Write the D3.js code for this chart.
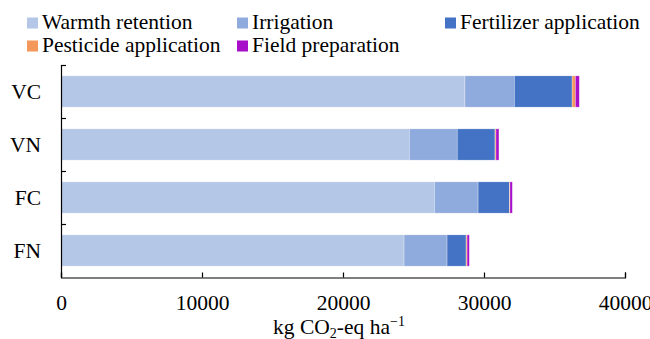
<!DOCTYPE html>
<html>
<head>
<meta charset="utf-8">
<script src="https://cdn.jsdelivr.net/npm/d3@7/dist/d3.min.js"></script>
<style>
	html, body { margin: 0; padding: 0; background: #fff; }
	svg text { font-family: "Liberation Serif", "Times New Roman", serif; fill: #000; }
</style>
</head>
<body>
<svg id="chart" width="650" height="339" font-family="'Liberation Serif', 'Times New Roman', serif"></svg>
<script>
(function(){
	'use strict';

	// values (kg CO2-eq / ha)
	var categories = ["VC", "VN", "FC", "FN"];
	var seriesNames = ["Warmth retention", "Irrigation", "Fertilizer application", "Pesticide application", "Field preparation"];
	var warmth = [28650, 24700, 26480, 24330];
	var irrigation = [3500, 3400, 3100, 3050];
	var fertilizer = [4100, 2680, 2220, 1350];
	var pesticide = [230, 70, 40, 70];
	var fieldPrep = [280, 210, 170, 160];
	var xTicks = [0, 10000, 20000, 30000, 40000];

	var colors = ["#b4c7e7", "#8faadc", "#4472c4", "#f4975a", "#a80fc8"];
	var seriesValues = [warmth, irrigation, fertilizer, pesticide, fieldPrep];

	var data = categories.map(function(c, i){
		var row = {name: c};
		seriesNames.forEach(function(s, j){ row[s] = seriesValues[j][i]; });
		return row;
	});

	var svg = d3.select("#chart");
	var margin = {top: 65, right: 25, bottom: 62, left: 61},
		width = 650 - margin.left - margin.right,
		height = 339 - margin.top - margin.bottom;

	var g = svg.append("g").attr("transform", "translate(" + margin.left + "," + margin.top + ")");

	var x = d3.scaleLinear().domain([0, 40000]).range([0, 564]);

	var y = d3.scaleBand()
		.domain(categories)
		.range([0, height])
		.paddingInner(0.41)
		.paddingOuter(0.205);

	// band scale without padding, for the category tick marks
	var yb = d3.scaleBand().domain(categories).range([0, height]);

	var z = d3.scaleOrdinal().domain(seriesNames).range(colors);

	var stack = d3.stack().keys(seriesNames);

	var serie = g.selectAll(".serie")
		.data(stack(data))
		.enter().append("g")
		.attr("class", "serie")
		.attr("fill", function(d){ return z(d.key); });

	serie.selectAll("rect")
		.data(function(d){ return d; })
		.enter().append("rect")
		.attr("x", function(d){ return x(d[0]); })
		.attr("width", function(d){ return x(d[1]) - x(d[0]); })
		.attr("y", function(d){ return y(d.data.name); })
		.attr("height", y.bandwidth())
		.attr("stroke", "#fff")
		.attr("stroke-width", 0.5)
		.attr("stroke-opacity", 0.6);

	// x axis, ticks pointing up
	var xAxis = g.append("g")
		.attr("transform", "translate(0," + (height + 0.5) + ")")
		.call(d3.axisBottom(x).tickValues(xTicks).tickSizeInner(-5).tickSizeOuter(-5).tickFormat(d3.format("d")));

	xAxis.attr("font-family", null);
	xAxis.select(".domain").attr("stroke", "#000").attr("stroke-width", 1.2);
	xAxis.selectAll(".tick line").attr("stroke", "#000").attr("stroke-width", 1.2);
	xAxis.selectAll(".tick text")
		.attr("y", 32)
		.attr("dy", 0)
		.style("font-size", "21.5px");

	// y axis line with ticks at category boundaries
	var yAxis = g.append("g").attr("class", "axis axis--y");
	yAxis.append("line")
		.attr("x1", 0.5).attr("x2", 0.5)
		.attr("y1", 0).attr("y2", height)
		.attr("stroke", "#000").attr("stroke-width", 1.2);

	var bounds = categories.map(function(c){ return yb(c); });
	yAxis.selectAll(".ytick")
		.data(bounds)
		.enter().append("line")
		.attr("x1", 0).attr("x2", 5)
		.attr("y1", function(d){ return Math.round(d) + 0.5; })
		.attr("y2", function(d){ return Math.round(d) + 0.5; })
		.attr("stroke", "#000").attr("stroke-width", 1.2);

	yAxis.selectAll(".ylabel")
		.data(categories)
		.enter().append("text")
		.attr("x", -20)
		.attr("y", function(d){ return y(d) + y.bandwidth() / 2; })
		.attr("dy", "0.34em")
		.attr("text-anchor", "end")
		.style("font-size", "21.5px")
		.text(function(d){ return d; });

	// axis title
	var title = svg.append("text")
		.attr("x", 339)
		.attr("y", 334)
		.attr("text-anchor", "middle")
		.style("font-size", "21.5px");
	title.append("tspan").text("kg CO");
	title.append("tspan").attr("dy", 4).style("font-size", "14px").text("2");
	title.append("tspan").attr("dy", -4).text("-eq ha");
	title.append("tspan").attr("dy", -8).style("font-size", "14px").text("\u22121");

	// legend, three columns by two rows
	var legX = [27, 237, 445],
		legY = [29, 52];

	var legend = svg.selectAll(".leg")
		.data(seriesNames)
		.enter().append("g")
		.attr("class", "leg")
		.attr("transform", function(d, i){ return "translate(" + legX[i % 3] + "," + legY[Math.floor(i / 3)] + ")"; });

	legend.append("rect")
		.attr("x", 0).attr("y", -11.5)
		.attr("width", 11).attr("height", 11)
		.attr("fill", function(d){ return z(d); });

	legend.append("text")
		.attr("x", 15)
		.attr("y", 0)
		.style("font-size", "21.5px")
		.text(function(d){ return d; });

})();
</script>
</body>
</html>
